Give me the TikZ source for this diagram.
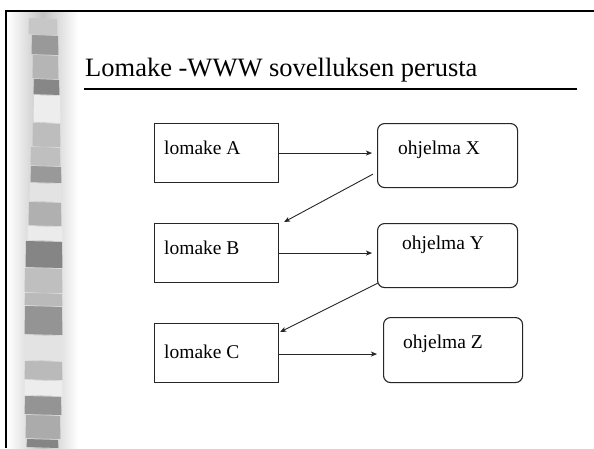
\documentclass[tikz,border=0pt]{standalone}
\usepackage{fontspec}
\setmainfont{Liberation Serif}
\usetikzlibrary{arrows.meta,calc}
\begin{document}
\begin{tikzpicture}[x=1pt,y=-1pt,
  boxsq/.style={draw=black!85,line width=1.1pt,inner sep=0pt,anchor=north west},
  boxrd/.style={boxsq,rounded corners=7pt},
  lbl/.style={inner sep=0pt,anchor=base west,font=\fontsize{19.5}{22}\selectfont},
  arr/.style={draw=black!85,line width=0.9pt,-{Stealth[length=6pt,width=5pt,inset=1.5pt]}},
  blk/.style={draw=none}]
\useasboundingbox (0,0) rectangle (594,448);
\fill[white] (0,0) rectangle (594,448);
% decorative left strip
\shade[left color=white,right color=white,middle color=black!24] (8,12) rectangle (78,448);
\foreach \ya/\yb/\xa/\xb/\c in {
  18/35/29/57/22, 35/55/32/58/40, 55/79/33/58/29, 79/95/34/59/47,
  95/123/34/60/7, 123/147/33/60/26, 147/166/31/60/25, 166/183/31/61/40,
  183/202/30/61/11, 202/226/29/61/31, 226/241/28/62/8, 241/268/26/62/48,
  268/293/25/62/25, 293/306/25/62/27, 306/335/25/62/42, 335/361/25/62/11,
  361/380/25/62/27, 380/396/25/62/7, 396/415/25/61/42, 415/439/26/60/33,
  439/448/27/58/48}
  \fill[black!\c] (\xa,\ya) -- (\xb,\ya+1) -- (\xb+0.5,\yb) -- (\xa-0.5,\yb-1) -- cycle;
% frame
\draw[line width=2.2pt] (6,448) -- (6,11) -- (594,11);
% title
\node[inner sep=0pt,anchor=base west,font=\fontsize{26.5}{30}\selectfont] (title) at (85,76) {Lomake -WWW sovelluksen perusta};
\draw[line width=2pt] (84,89) coordinate (tl) -- (577,89) coordinate (tr);
% boxes
\node[boxsq,minimum width=124pt,minimum height=59pt] (A) at (154,123) {};
\node[boxrd,minimum width=140pt,minimum height=64pt] (X) at (377,123) {};
\node[boxsq,minimum width=124pt,minimum height=59pt] (B) at (154,223) {};
\node[boxrd,minimum width=140pt,minimum height=64pt] (Y) at (377,223) {};
\node[boxsq,minimum width=124pt,minimum height=59pt] (C) at (154,323) {};
\node[boxrd,minimum width=139pt,minimum height=65pt] (Z) at (383,317) {};
% labels
\node[lbl] (tA) at (164,154) {lomake A};
\node[lbl] (tX) at (398,154) {ohjelma X};
\node[lbl] (tB) at (164,254) {lomake B};
\node[lbl] (tY) at (402,249) {ohjelma Y};
\node[lbl] (tC) at (164,358) {lomake C};
\node[lbl] (tZ) at (403,348) {ohjelma Z};
% connectors
\draw[arr,shorten >=5pt] (A.east) -- (A.east -| X.west);
\draw[arr] ([shift={(-4,-14)}]X.south west) -- ([shift={(5,-1)}]B.north east);
\draw[arr,shorten >=5pt] (B.east) -- (B.east -| Y.west);
\draw[arr] ([shift={(1,-5)}]Y.south west) -- ([shift={(1,9)}]C.north east);
\draw[arr,shorten >=6pt] ([yshift=-1]C.east) -- ([yshift=-1]C.east -| Z.west);
\end{tikzpicture}
\end{document}
